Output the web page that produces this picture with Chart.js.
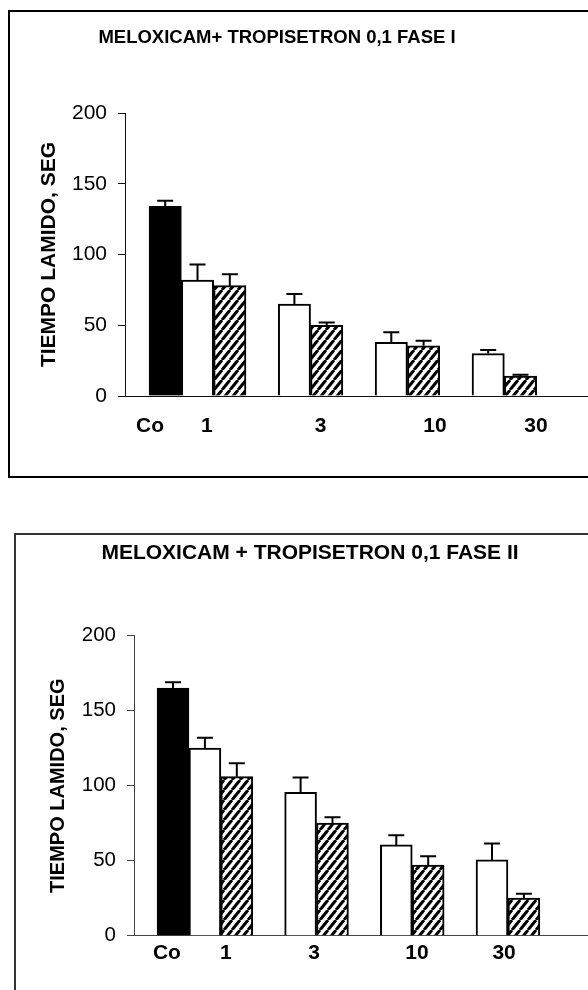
<!DOCTYPE html>
<html>
<head>
<meta charset="utf-8">
<script src="https://cdn.jsdelivr.net/npm/chart.js@4.4.1/dist/chart.umd.min.js"></script>
<style>
  html, body { margin: 0; padding: 0; background: #fff; }
  body { width: 588px; height: 990px; position: relative; overflow: hidden; }
  .frame { position: absolute; box-sizing: border-box; }
  #frame1 { left: 8px; top: 10px; width: 600px; height: 468px; border: 2px solid #000; }
  #frame2 { left: 14px; top: 533px; width: 600px; height: 480px; border: 2px solid #333; }
  canvas { position: absolute; }
  #c1 { left: -34px; top: 0; }
  #c2 { left: 32px; top: 500px; }
</style>
</head>
<body>
<div class="frame" id="frame1"></div>
<div class="frame" id="frame2"></div>
<canvas id="c1" width="622" height="480"></canvas>
<canvas id="c2" width="556" height="490"></canvas>
<script>
// ---------- Data ----------
const categories = ["Co", "1", "3", "10", "30"];
const yTicks = [0, 50, 100, 150, 200];

// Fase I
const controlI = [134];
const controlErrI = [4];
const whiteI = [82, 65, 38, 30];
const whiteErrI = [11, 7, 7, 2.5];
const hatchI = [78, 50, 35.5, 14];
const hatchErrI = [8, 2, 3.5, 1];

// Fase II
const controlII = [165];
const controlErrII = [4];
const whiteII = [125, 95.5, 60.5, 50.5];
const whiteErrII = [7, 10, 6.5, 11];
const hatchII = [106, 75, 47, 25];
const hatchErrII = [9, 4, 6, 3];

// where the dose labels sit on the x axis (in bar slots)
const labelAtI = [-0.47, 1.29, 4.81, 8.35, 11.48];
const labelAtII = [-0.19, 1.66, 4.42, 7.65, 10.38];

const FONT = "'Liberation Sans', Arial, sans-serif";

// ---------- Helpers ----------
// each dose group takes 3 slots: black, white, hatched
const toPoints = (values, slot) => values.map((v, g) => ({ x: g * 3 + slot, y: v }));

function hatchPattern(ctx) {
  const c = document.createElement("canvas");
  c.width = 8; c.height = 10;
  const g = c.getContext("2d");
  g.fillStyle = "#fff";
  g.fillRect(0, 0, 8, 10);
  g.strokeStyle = "#000";
  g.lineWidth = 3;
  g.beginPath();
  for (const dx of [-8, 0, 8]) { g.moveTo(dx, 10); g.lineTo(dx + 8, 0); }
  g.stroke();
  return ctx.createPattern(c, "repeat");
}

const errorBars = {
  id: "errorBars",
  afterDatasetsDraw(chart) {
    const ctx = chart.ctx;
    const y = chart.scales.y;
    chart.data.datasets.forEach((ds, i) => {
      chart.getDatasetMeta(i).data.forEach((bar, j) => {
        const top = y.getPixelForValue(ds.data[j].y + ds.errors[j]);
        ctx.save();
        ctx.strokeStyle = "#000";
        ctx.lineWidth = 2;
        ctx.beginPath();
        ctx.moveTo(bar.x, bar.y);
        ctx.lineTo(bar.x, top);
        ctx.moveTo(bar.x - 8, top);
        ctx.lineTo(bar.x + 8, top);
        ctx.stroke();
        ctx.restore();
      });
    });
  }
};

function makeChart(id, o) {
  const ctx = document.getElementById(id).getContext("2d");
  const barBase = { grouped: false, barPercentage: 1, categoryPercentage: 1, borderColor: "#000", borderWidth: 2 };
  return new Chart(ctx, {
    type: "bar",
    data: {
      datasets: [
        { ...barBase, data: toPoints(o.control, 0), errors: o.controlErr, backgroundColor: "#000" },
        { ...barBase, data: toPoints(o.white, 1), errors: o.whiteErr, backgroundColor: "#fff" },
        { ...barBase, data: toPoints(o.hatch, 2), errors: o.hatchErr, backgroundColor: hatchPattern(ctx) }
      ]
    },
    plugins: [errorBars],
    options: {
      responsive: false,
      animation: false,
      devicePixelRatio: 1,
      layout: { padding: 0 },
      plugins: {
        legend: { display: false },
        tooltip: { enabled: false },
        title: {
          display: true,
          text: o.title,
          color: "#000",
          font: { family: FONT, size: o.titleSize, weight: "bold", lineHeight: 1.2 },
          padding: o.titlePad
        }
      },
      scales: {
        x: {
          type: "linear",
          min: o.xMin,
          max: o.xMax,
          offset: false,
          grid: { display: false, drawTicks: false },
          border: { display: true, color: o.axisColor, width: 1 },
          afterBuildTicks: s => { s.ticks = o.labelAt.map(v => ({ value: v })); },
          afterFit: s => { s.height = o.xHeight; },
          ticks: {
            autoSkip: false,
            maxRotation: 0,
            padding: o.xLabelPad,
            color: "#000",
            font: { family: FONT, size: 21, weight: "bold", lineHeight: 1.2 },
            callback: (v, i) => categories[i]
          }
        },
        y: {
          min: 0,
          max: 200,
          afterBuildTicks: s => { s.ticks = yTicks.map(v => ({ value: v })); },
          afterFit: s => { s.width = o.yWidth; },
          grid: { drawOnChartArea: false, tickLength: 7, color: o.axisColor },
          border: { color: o.axisColor, width: 1 },
          ticks: { padding: 11, color: "#000", font: { family: FONT, size: o.yTickSize } },
          title: {
            display: true,
            text: "TIEMPO LAMIDO, SEG",
            color: "#000",
            font: { family: FONT, size: o.yTitleSize, weight: "bold", lineHeight: 1.2 },
            padding: { top: o.yTitlePad, bottom: 0 }
          }
        }
      }
    }
  });
}

// ---------- Charts ----------
makeChart("c1", {
  title: "MELOXICAM+ TROPISETRON 0,1 FASE I",
  titleSize: 18.5,
  titlePad: { top: 26.9, bottom: 63.9 },
  control: controlI, controlErr: controlErrI,
  white: whiteI, whiteErr: whiteErrI,
  hatch: hatchI, hatchErr: hatchErrI,
  xMin: -1.245, xMax: 13.09,
  labelAt: labelAtI,
  xHeight: 84, xLabelPad: 17.4,
  yWidth: 159, yTickSize: 21,
  yTitleSize: 21, yTitlePad: 70.4,
  axisColor: "#111"
});

makeChart("c2", {
  title: "MELOXICAM + TROPISETRON 0,1 FASE II",
  titleSize: 21,
  titlePad: { top: 40.4, bottom: 70.1 },
  control: controlII, controlErr: controlErrII,
  white: whiteII, whiteErr: whiteErrII,
  hatch: hatchII, hatchErr: hatchErrII,
  xMin: -1.223, xMax: 13.01,
  labelAt: labelAtII,
  xHeight: 54.3, xLabelPad: 4.7,
  yWidth: 102, yTickSize: 20.5,
  yTitleSize: 20, yTitlePad: 14,
  axisColor: "#444"
});
</script>
</body>
</html>
